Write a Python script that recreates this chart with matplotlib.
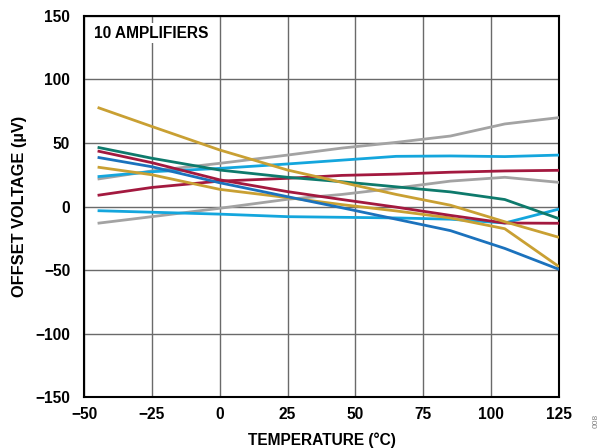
import matplotlib
matplotlib.use("Agg")
import matplotlib.pyplot as plt

plt.rcParams['font.family'] = ['Liberation Sans', 'DejaVu Sans']
plt.rcParams['font.weight'] = 'bold'

# --- data ---
temps = [-45, -25, 0, 25, 45, 65, 85, 105, 125]

gold_a = [78, 63, 44.5, 28.7, 19, 9.5, 1, -12, -24.3]
gold_b = [31, 25, 13.5, 7, 1.5, -3.5, -9, -17.5, -47.4]
teal = [46.6, 38, 28.7, 23, 19.5, 15.5, 11.5, 5.5, -9.6]
crimson_a = [43.7, 34.5, 21, 11.7, 5.5, -0.5, -7, -13, -13.2]
crimson_b = [8.8, 15, 20, 22.2, 24.5, 25.5, 27, 28, 28.5]
blue = [38.7, 31.3, 18.7, 7.7, -1, -10, -19, -33, -49.5]
cyan_a = [23.5, 27.4, 30, 33.5, 36.5, 39.5, 39.8, 39.3, 40.5]
cyan_b = [-3.3, -4.5, -6, -8, -8.5, -9, -10, -13, -2]
grey_a = [21.6, 28, 34, 40.5, 46, 50.5, 55.5, 65, 70]
grey_b = [-13.2, -8, -1.4, 5.7, 9.5, 14.5, 20, 23, 19]

x_ticks = [-50, -25, 0, 25, 50, 75, 100, 125]
y_ticks = [-150, -100, -50, 0, 50, 100, 150]

GOLD = '#C9A033'
TEAL = '#0E7A6C'
CRIMSON = '#A3193F'
BLUE = '#1B72BD'
CYAN = '#14A6DD'
GREY = '#A3A3A3'

series = [
    (grey_b, GREY), (cyan_b, CYAN), (crimson_b, CRIMSON), (grey_a, GREY),
    (cyan_a, CYAN), (gold_b, GOLD), (blue, BLUE), (crimson_a, CRIMSON),
    (teal, TEAL), (gold_a, GOLD),
]

fig = plt.figure(figsize=(6.01, 4.48), dpi=100)
ax = fig.add_axes([0.1398, 0.1138, 0.7904, 0.8505])

for vals, col in series:
    ax.plot(temps, vals, color=col, lw=2.0, solid_capstyle='butt', zorder=3)

ax.set_xlim(-50, 125)
ax.set_ylim(-150, 150)
ax.set_xticks(x_ticks)
ax.set_yticks(y_ticks)
ax.grid(True, color='#6A6A6A', lw=1.0, zorder=1)
ax.tick_params(length=0, labelsize=11.2)
ax.tick_params(axis='x', pad=7)
ax.tick_params(axis='y', pad=10)
for s in ax.spines.values():
    s.set_linewidth(1.5)
    s.set_color('black')

ax.set_xlabel('TEMPERATURE (°C)', fontsize=11.2, fontweight='bold', labelpad=8)
ax.set_ylabel('OFFSET VOLTAGE (µV)', fontsize=11.8, fontweight='bold', labelpad=6)

ax.text(0.02, 0.955, '10 AMPLIFIERS', transform=ax.transAxes, fontsize=11.2,
        fontweight='bold', va='center', ha='left', zorder=4,
        bbox=dict(facecolor='white', edgecolor='none', pad=2))

fig.text(0.992, 0.06, '008', rotation=90, fontsize=6, color='#808080',
         fontweight='normal', ha='center', va='center')

fig.savefig('out.png', dpi=100)
